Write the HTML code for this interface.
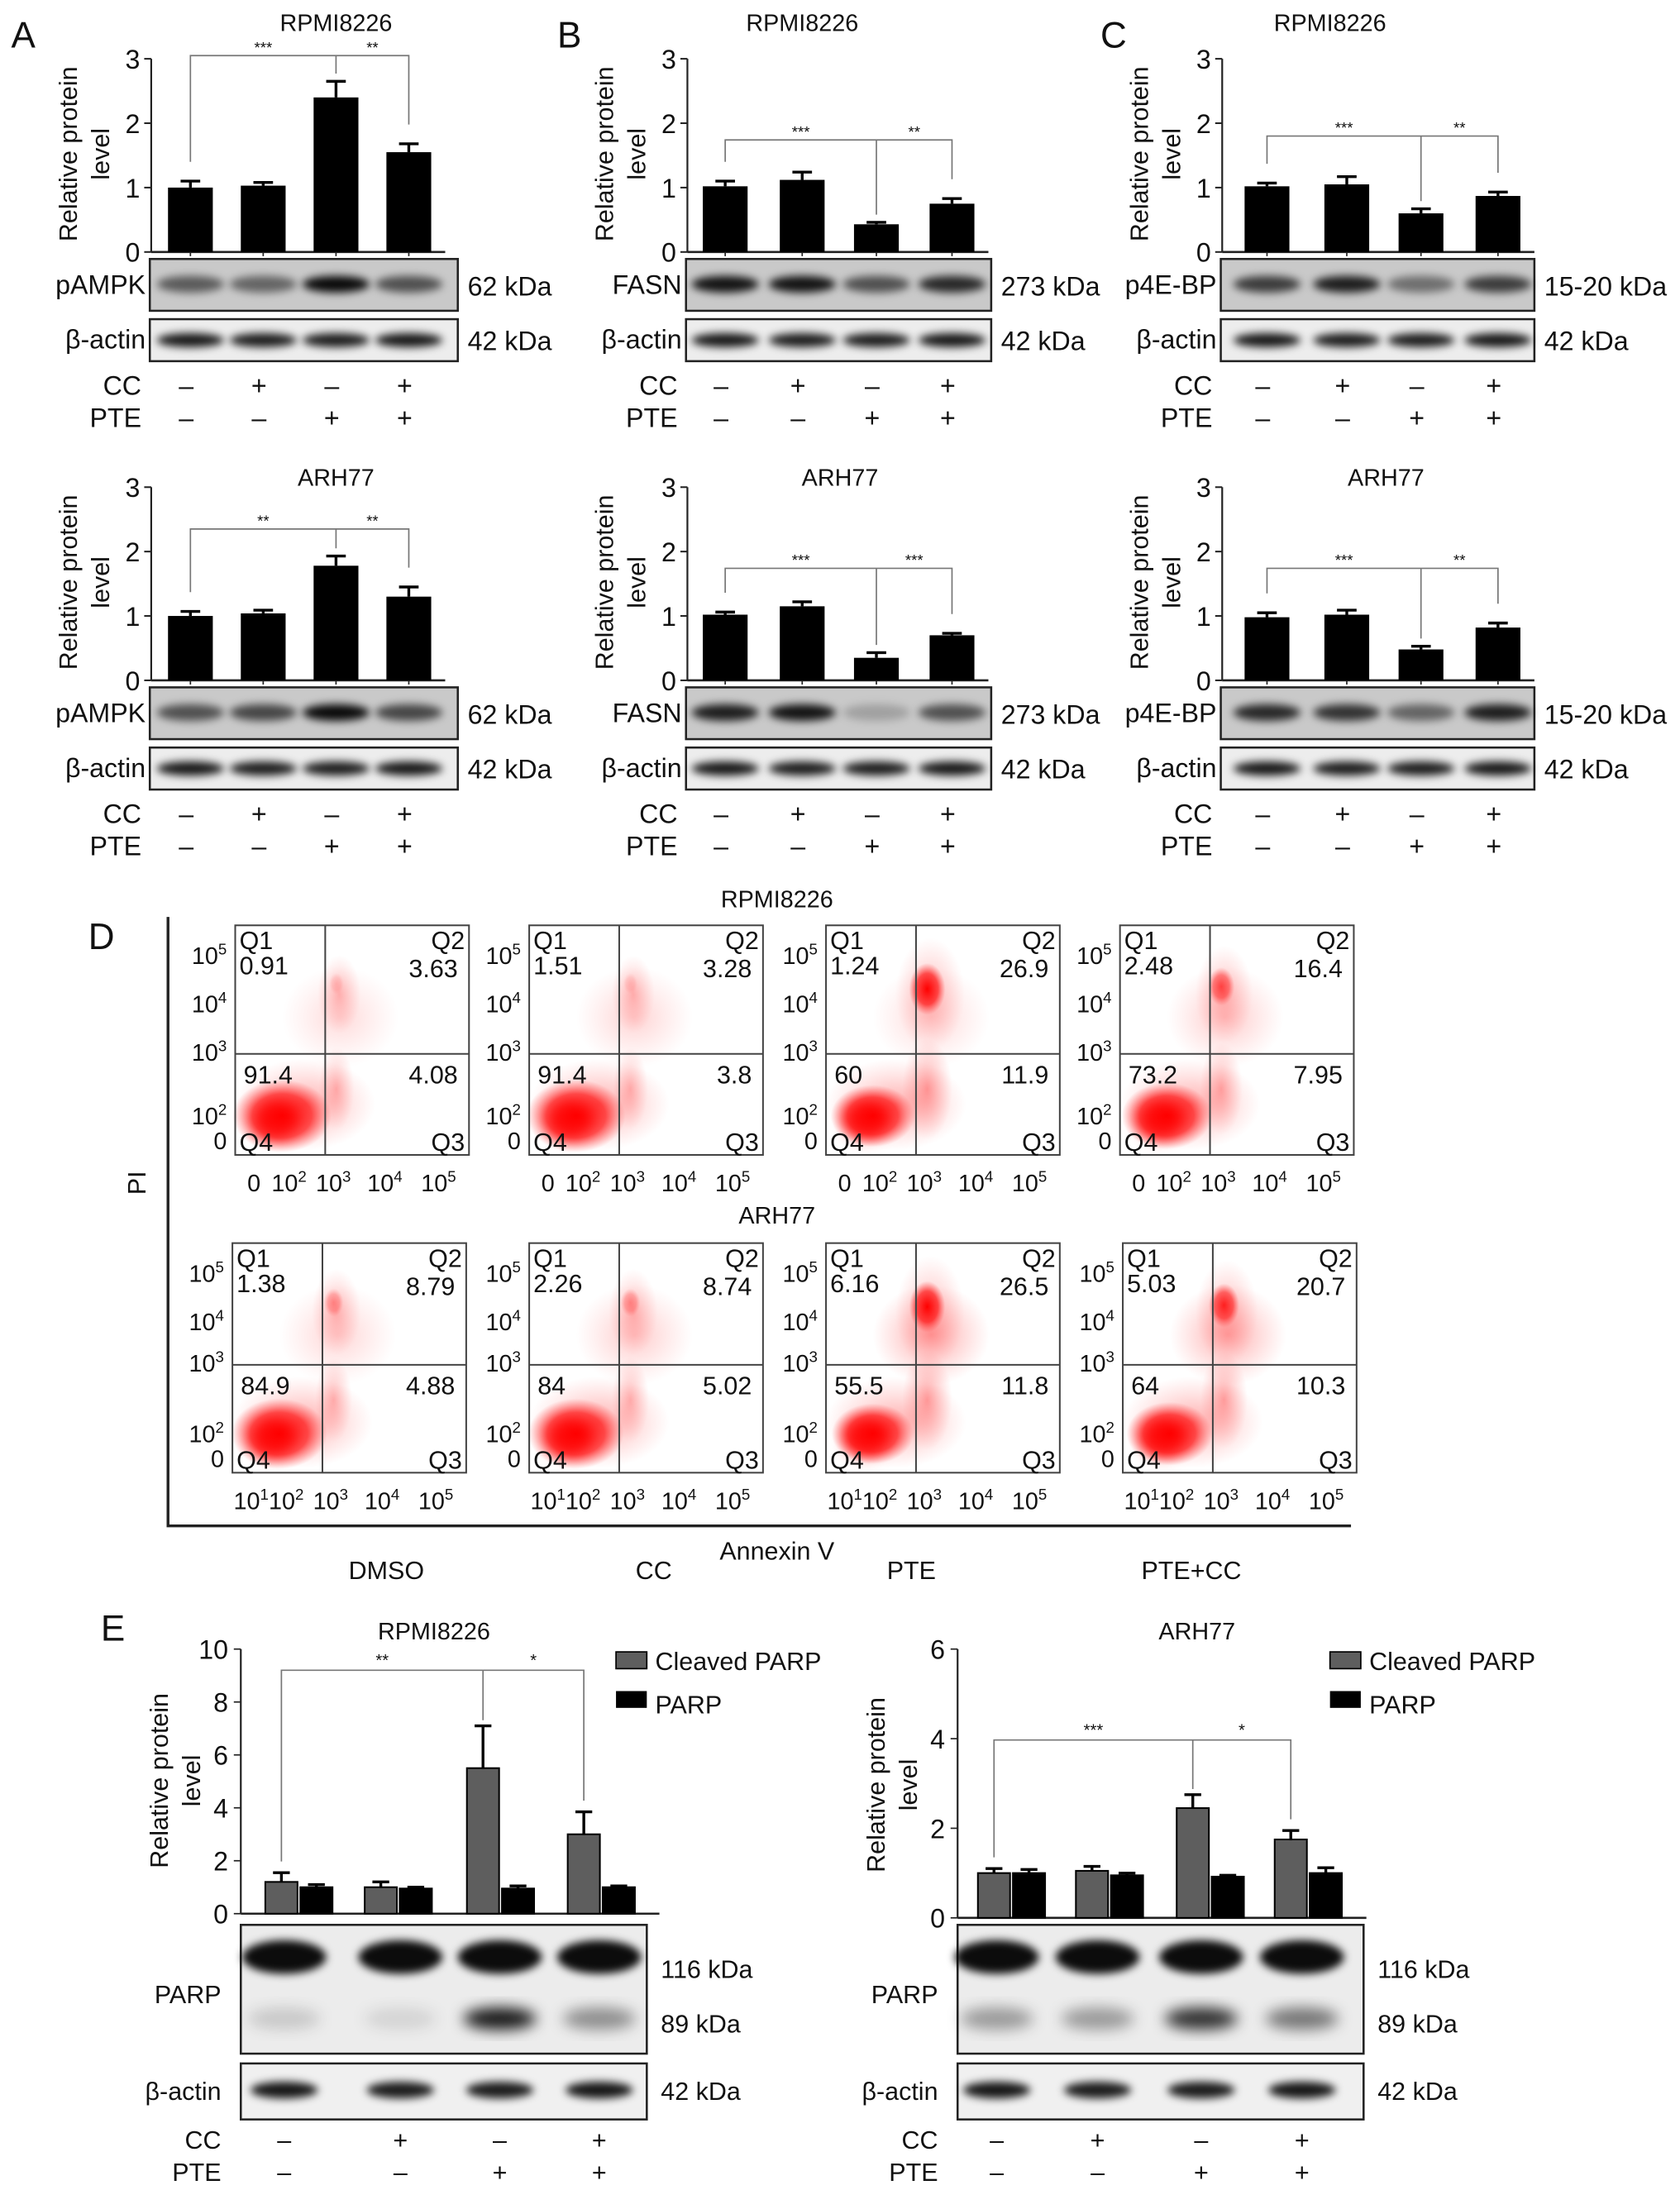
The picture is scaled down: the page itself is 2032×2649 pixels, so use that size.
<!DOCTYPE html>
<html><head><meta charset="utf-8"><style>
html,body{margin:0;padding:0;background:#fff;}
svg{display:block;font-family:"Liberation Sans",Arial,sans-serif;}
</style></head><body>
<svg id="fig" xmlns="http://www.w3.org/2000/svg" width="2032" height="2649" viewBox="0 0 1200 1564.4">
<defs>
<filter id="blur" x="-50%" y="-100%" width="200%" height="300%"><feGaussianBlur stdDeviation="3"/></filter>
<filter id="blur2" x="-50%" y="-50%" width="200%" height="200%"><feGaussianBlur stdDeviation="5"/></filter>
<radialGradient id="dens" cx="50%" cy="50%" r="50%"><stop offset="0" stop-color="#ff0000" stop-opacity="1"/><stop offset="0.6" stop-color="#ff1010" stop-opacity="0.7"/><stop offset="1" stop-color="#ff4040" stop-opacity="0"/></radialGradient>
<radialGradient id="sparse" cx="50%" cy="50%" r="50%"><stop offset="0" stop-color="#ff3030" stop-opacity="0.45"/><stop offset="1" stop-color="#ff6060" stop-opacity="0"/></radialGradient>
</defs>
<g id="root"></g>
</svg>
<script>
// ---- Data: panel A-C bar charts (relative protein level) ----
const lanes = ['DMSO','CC','PTE','PTE+CC'];
const ccSigns = ['–','+','–','+'];
const pteSigns = ['–','–','+','+'];
const yTicksTop = [0,1,2,3];
const aTopVals = [1.0,1.03,2.4,1.55];
const aTopErr = [0.1,0.05,0.25,0.13];
const aBotVals = [1.0,1.04,1.78,1.3];
const aBotErr = [0.07,0.05,0.15,0.15];
const bTopVals = [1.02,1.12,0.43,0.75];
const bTopErr = [0.08,0.12,0.03,0.08];
const bBotVals = [1.02,1.15,0.35,0.7];
const bBotErr = [0.04,0.07,0.08,0.03];
const cTopVals = [1.02,1.05,0.6,0.87];
const cTopErr = [0.05,0.12,0.07,0.06];
const cBotVals = [0.98,1.02,0.48,0.82];
const cBotErr = [0.07,0.07,0.05,0.07];
// band intensities (0-1)
const aTopBand = [0.55,0.5,0.95,0.6];
const aBotBand = [0.6,0.65,0.95,0.65];
const bTopBand = [0.9,0.9,0.6,0.8];
const bBotBand = [0.85,0.9,0.2,0.6];
const cTopBand = [0.7,0.85,0.45,0.7];
const cBotBand = [0.8,0.75,0.5,0.85];
const actinBand = [0.9,0.88,0.88,0.9];
// ---- Data: panel D flow cytometry quadrant percentages [Q1,Q2,Q3,Q4] ----
const flowRow1 = [[0.91,3.63,4.08,91.4],[1.51,3.28,3.8,91.4],[1.24,26.9,11.9,60],[2.48,16.4,7.95,73.2]];
const flowRow2 = [[1.38,8.79,4.88,84.9],[2.26,8.74,5.02,84],[6.16,26.5,11.8,55.5],[5.03,20.7,10.3,64]];
const flowXLabels1 = ['0','10²','10³','10⁴','10⁵'];
const flowXLabels2 = ['10¹','10²','10³','10⁴','10⁵'];
// ---- Data: panel E grouped bars ----
const eLeftTicks = [0,2,4,6,8,10];
const eRightTicks = [0,2,4,6];
const eLeftCleaved = [1.2,1.0,5.5,3.0];
const eLeftCleavedErr = [0.35,0.2,1.6,0.85];
const eLeftParp = [1.0,0.95,0.95,1.0];
const eLeftParpErr = [0.1,0.05,0.1,0.05];
const eRightCleaved = [1.0,1.05,2.45,1.75];
const eRightCleavedErr = [0.1,0.1,0.3,0.2];
const eRightParp = [1.0,0.95,0.92,1.0];
const eRightParpErr = [0.08,0.05,0.03,0.12];
const eLeft89 = [0.15,0.1,0.9,0.4];
const eRight89 = [0.35,0.35,0.8,0.5];

const NS='http://www.w3.org/2000/svg';
const root=document.getElementById('root');
function el(tag,attrs,parent,text){const e=document.createElementNS(NS,tag);for(const k in attrs)e.setAttribute(k,attrs[k]);if(text!==undefined)e.textContent=text;(parent||root).appendChild(e);return e;}
function txt(x,y,s,size,anchor,parent,name){const t=el('text',{x:x,y:y,'font-size':size,'text-anchor':anchor||'start',fill:'#111'},parent,s);


return t;}
function supLabel(x,y,base,sup,size,anchor,parent){const t=el('text',{x:x,y:y,'font-size':size,'text-anchor':anchor,fill:'#111'},parent);


el('tspan',{},t,base);el('tspan',{dy:-size*0.4,'font-size':size*0.65},t,sup);return t;}
function rotLabel(x,y,s,size,parent){const t=el('text',{x:0,y:0,'font-size':size,'text-anchor':'middle',fill:'#111',transform:`translate(${x},${y}) rotate(-90)`},parent,s);

}

function blot(x,y,w,h,centers,ints,bandY,bandH,bg,name,parent){
  const g=el('g',{},parent);
  
  
  el('rect',{x:x,y:y,width:w,height:h,fill:bg,stroke:'#222','stroke-width':1.5},g);
  centers.forEach((c,i)=>{const b=el('ellipse',{cx:c,cy:bandY,rx:24,ry:bandH,fill:'#000','fill-opacity':ints[i],filter:'url(#blur)'},g);
    
    });
  return g;
}

function topChart(c){
  const g=el('g',{});
  
  
  const ppu=46, y=v=>c.y0-v*ppu;
  txt(c.tx,c.ty,c.title,17,'middle',g,'chart-title');
  const ya=el('line',{x1:c.ax,y1:y(3),x2:c.ax,y2:c.y0,stroke:'#222','stroke-width':1.3},g);
  
  
  yTicksTop.forEach(t=>{el('line',{x1:c.ax-5,y1:y(t),x2:c.ax,y2:y(t),stroke:'#222','stroke-width':1.2},g);txt(c.ax-8,y(t)+7,String(t),19,'end',g,'y-tick-label');});
  const xa=el('line',{x1:c.ax,y1:c.y0,x2:c.centers[3]+26,y2:c.y0,stroke:'#222','stroke-width':1.5},g);
  
  
  rotLabel(c.ax-53,c.y0-70,'Relative protein',18,g);
  rotLabel(c.ax-30,c.y0-70,'level',18,g);
  c.vals.forEach((v,i)=>{
    const cx=c.centers[i];
    const r=el('rect',{x:cx-16,y:y(v),width:32,height:v*ppu,fill:'#000'},g);
    
    
    const top=y(v+c.err[i]);
    el('line',{x1:cx,y1:y(v),x2:cx,y2:top,stroke:'#000','stroke-width':2},g);
    el('line',{x1:cx-7,y1:top,x2:cx+7,y2:top,stroke:'#000','stroke-width':2},g);
    el('line',{x1:cx,y1:c.y0,x2:cx,y2:c.y0+3,stroke:'#222'},g);
  });
  const by=y(c.br), ce=c.centers, e=i=>c.vals[i]+c.err[i];
  const br=el('path',{d:`M${ce[0]},${y(e(0)+0.3)} V${by} H${ce[3]} V${y(e(3)+0.3)} M${ce[2]},${by} V${y(e(2)+0.12)}`,fill:'none',stroke:'#777','stroke-width':1},g);
  
  
  txt((ce[0]+ce[2])/2,by-2,c.stars[0],11,'middle',g,'significance-stars');
  txt((ce[2]+ce[3])/2,by-2,c.stars[1],11,'middle',g,'significance-stars');
  const bx=c.ax-1,bw=c.bw;
  blot(bx,c.y0+5,bw,37,ce,c.band,c.y0+23,6,'#c9c9c9',c.prot.toLowerCase().replace(/[^a-z0-9]/g,'')+'-blot',g);
  txt(c.ax-4,c.y0+30,c.prot,19,'end',g,'protein-label');
  txt(bx+bw+7,c.y0+31,c.kda,19,'start',g,'kda-label');
  blot(bx,c.y0+48,bw,30,ce,actinBand,c.y0+63,5,'#ededed','actin-blot',g);
  txt(c.ax-4,c.y0+69,'β-actin',19,'end',g,'protein-label');
  txt(bx+bw+7,c.y0+70,'42 kDa',19,'start',g,'kda-label');
  txt(c.ax-7,c.y0+102,'CC',19,'end',g,'cc-label');
  txt(c.ax-7,c.y0+125,'PTE',19,'end',g,'pte-label');
  ce.forEach((cx,i)=>{txt(cx-3,c.y0+102,ccSigns[i],19,'middle',g,'cc-sign');txt(cx-3,c.y0+125,pteSigns[i],19,'middle',g,'pte-sign');});
}
[['A',8],['B',398],['C',786]].forEach(([l,x])=>{txt(x,34,l,26,'start',root,'panel-letter-'+l.toLowerCase());});
topChart({name:'chart-a-rpmi8226',title:'RPMI8226',tx:240,ty:22,ax:108,y0:180,centers:[136,188,240,292],vals:aTopVals,err:aTopErr,br:3.05,stars:['***','**'],prot:'pAMPK',kda:'62 kDa',band:aTopBand,bw:220});
topChart({name:'chart-a-arh77',title:'ARH77',tx:240,ty:347,ax:108,y0:486,centers:[136,188,240,292],vals:aBotVals,err:aBotErr,br:2.35,stars:['**','**'],prot:'pAMPK',kda:'62 kDa',band:aBotBand,bw:220});
topChart({name:'chart-b-rpmi8226',title:'RPMI8226',tx:573,ty:22,ax:491,y0:180,centers:[518,573,626,680],vals:bTopVals,err:bTopErr,br:1.74,stars:['***','**'],prot:'FASN',kda:'273 kDa',band:bTopBand,bw:218});
topChart({name:'chart-b-arh77',title:'ARH77',tx:600,ty:347,ax:491,y0:486,centers:[518,573,626,680],vals:bBotVals,err:bBotErr,br:1.74,stars:['***','***'],prot:'FASN',kda:'273 kDa',band:bBotBand,bw:218});
topChart({name:'chart-c-rpmi8226',title:'RPMI8226',tx:950,ty:22,ax:873,y0:180,centers:[905,962,1015,1070],vals:cTopVals,err:cTopErr,br:1.8,stars:['***','**'],prot:'p4E-BP',kda:'15-20 kDa',band:cTopBand,bw:224});
topChart({name:'chart-c-arh77',title:'ARH77',tx:990,ty:347,ax:873,y0:486,centers:[905,962,1015,1070],vals:cBotVals,err:cBotErr,br:1.74,stars:['***','**'],prot:'p4E-BP',kda:'15-20 kDa',band:cBotBand,bw:224});

// ---- Panel D ----
txt(63,678,'D',26,'start',root,'panel-letter-d');
txt(555,648,'RPMI8226',17,'middle',root,'flow-title-rpmi8226');
txt(555,874,'ARH77',17,'middle',root,'flow-title-arh77');
const dax=el('path',{d:'M120,655 V1090 H965',fill:'none',stroke:'#222','stroke-width':2});


rotLabel(104,845,'PI',18,root);
txt(555,1114,'Annexin V',18,'middle',root,'x-axis-title');
[[276,'DMSO'],[467,'CC'],[651,'PTE'],[851,'PTE+CC']].forEach(([x,s])=>txt(x,1128,s,18,'middle',root,'treatment-label'));
function flowPlot(x,y,vals,xlab,hfrac,name){
  const w=167,h=164,g=el('g',{});
  
  
  const vx=x+w*0.385,hy=y+h*hfrac;
  const q2=vals[1]/30, q3=vals[2]/12;
  el('ellipse',{cx:x+w*0.45,cy:y+h*0.4,rx:w*0.25,ry:h*0.22,fill:'url(#sparse)','fill-opacity':0.3+vals[0]/8},g);
  el('ellipse',{cx:vx+10,cy:y+h*0.3,rx:14+q2*12,ry:26+q2*16,fill:'url(#sparse)','fill-opacity':0.75},g);
  el('ellipse',{cx:vx+8,cy:y+h*0.25+q2*5,rx:4+q2*10,ry:6+q2*14,fill:'url(#dens)','fill-opacity':Math.min(1,q2*1.2)},g);
  el('ellipse',{cx:vx+8,cy:hy+25,rx:10+q3*8,ry:26+q3*10,fill:'url(#sparse)','fill-opacity':0.6+q3*0.4},g);
  const m=vals[3]/100;
  el('ellipse',{cx:x+w*0.3,cy:y+h*0.78,rx:w*0.3,ry:h*0.2,fill:'url(#sparse)','fill-opacity':0.9},g);
  el('ellipse',{cx:x+w*0.2,cy:y+h*0.83,rx:w*0.2*(0.6+m*0.5),ry:h*0.15*(0.6+m*0.5),fill:'url(#dens)'},g);
  el('ellipse',{cx:x+w*0.17,cy:y+h*0.85,rx:w*0.09,ry:h*0.08,fill:'#ff0000','fill-opacity':0.75,filter:'url(#blur2)'},g);
  el('rect',{x:x,y:y,width:w,height:h,fill:'none',stroke:'#444','stroke-width':1.2},g);
  el('line',{x1:vx,y1:y,x2:vx,y2:y+h,stroke:'#444','stroke-width':1.2},g);
  el('line',{x1:x,y1:hy,x2:x+w,y2:hy,stroke:'#444','stroke-width':1.2},g);
  const fs=18;
  txt(x+3,y+17,'Q1',fs,'start',g,'quadrant-q1');
  txt(x+3,y+35,String(vals[0]),fs,'start',g,'q1-percent');
  txt(x+w-3,y+17,'Q2',fs,'end',g,'quadrant-q2');
  txt(x+w-8,y+37,String(vals[1]),fs,'end',g,'q2-percent');
  txt(x+6,hy+21,String(vals[3]),fs,'start',g,'q4-percent');
  txt(x+w-8,hy+21,String(vals[2]),fs,'end',g,'q3-percent');
  txt(x+3,y+h-3,'Q4',fs,'start',g,'quadrant-q4');
  txt(x+w-3,y+h-3,'Q3',fs,'end',g,'quadrant-q3');
  [[5,0.12],[4,0.33],[3,hfrac-0.02]].forEach(([p,f])=>supLabel(x-6,y+h*f+8,'10',String(p),17,'end',g));
  supLabel(x-6,y+h*0.83+6,'10','2',17,'end',g);
  txt(x-6,y+h-4,'0',17,'end',g,'tick-label');
  const xs=[0.08,0.23,0.42,0.64,0.87];
  const supMap={'¹':'1','²':'2','³':'3','⁴':'4','⁵':'5'};
  xlab.forEach((s,i)=>{
    if(s.length>1){supLabel(x+w*xs[i],y+h+26,'10',supMap[s[2]],17,'middle',g);}
    else txt(x+w*xs[i],y+h+26,s,17,'middle',g,'x-tick-label');
  });
}
const r1x=[168,378,590,800], r2x=[166,378,590,802];
flowRow1.forEach((v,i)=>flowPlot(r1x[i],661,v,flowXLabels1,0.56,'flow-rpmi8226-'+lanes[i].toLowerCase()));
flowRow2.forEach((v,i)=>flowPlot(r2x[i],888,v,flowXLabels2,0.53,'flow-arh77-'+lanes[i].toLowerCase()));

// ---- Panel E ----
txt(72,1172,'E',26,'start',root,'panel-letter-e');
function eChart(c){
  const g=el('g',{});
  
  
  const y=v=>c.y0-v*c.ppu;
  txt(c.tx,1171,c.title,17,'middle',g,'chart-title');
  el('line',{x1:c.ax,y1:y(c.ticks[c.ticks.length-1]),x2:c.ax,y2:c.y0,stroke:'#222','stroke-width':1.3},g);
  c.ticks.forEach(t=>{el('line',{x1:c.ax-5,y1:y(t),x2:c.ax,y2:y(t),stroke:'#222'},g);txt(c.ax-9,y(t)+7,String(t),19,'end',g,'y-tick-label');});
  el('line',{x1:c.ax,y1:c.y0,x2:c.gx[3]+c.bw*2+8,y2:c.y0,stroke:'#222','stroke-width':1.5},g);
  rotLabel(c.ax-52,c.y0-95,'Relative protein',18,g);
  rotLabel(c.ax-29,c.y0-95,'level',18,g);
  const draw=(vals,errs,off,fill,nm)=>vals.forEach((v,i)=>{
    const cx=c.gx[i]+off;
    const r=el('rect',{x:cx-c.bw/2,y:y(v),width:c.bw,height:v*c.ppu,fill:fill,stroke:'#000','stroke-width':1.2},g);
    
    
    const top=y(v+errs[i]);
    el('line',{x1:cx,y1:y(v),x2:cx,y2:top,stroke:'#000','stroke-width':2},g);
    el('line',{x1:cx-6,y1:top,x2:cx+6,y2:top,stroke:'#000','stroke-width':2},g);
  });
  draw(c.cl,c.clErr,0,'#5e5e5e','cleaved-parp');
  draw(c.pa,c.paErr,c.bw+2,'#000','parp');
  const e=i=>c.cl[i]+c.clErr[i], by=y(c.br), gx=c.gx;
  const br=el('path',{d:`M${gx[0]},${y(e(0))-8} V${by} H${gx[3]} V${y(e(3))-8} M${gx[2]},${by} V${y(e(2))-4}`,fill:'none',stroke:'#777','stroke-width':1},g);
  
  
  txt((gx[0]+gx[2])/2,by-3,c.stars[0],12,'middle',g,'significance-stars');
  txt((gx[2]+gx[3])/2,by-3,c.stars[1],12,'middle',g,'significance-stars');
  const lg=el('g',{},g);
  
  
  el('rect',{x:c.lx,y:1180,width:22,height:12,fill:'#5e5e5e',stroke:'#000'},lg);
  txt(c.lx+28,1193,'Cleaved PARP',18,'start',lg,'legend-entry-cleaved-parp');
  el('rect',{x:c.lx,y:1208,width:22,height:12,fill:'#000'},lg);
  txt(c.lx+28,1224,'PARP',18,'start',lg,'legend-entry-parp');
  const bw=c.boxW, bx=c.ax;
  const pb=el('g',{},g);
  
  
  el('rect',{x:bx,y:1375,width:bw,height:92,fill:'#ececec',stroke:'#222','stroke-width':1.5},pb);
  c.lanes.forEach((lx,i)=>{
    el('ellipse',{cx:lx,cy:1398,rx:30,ry:12,fill:'#000','fill-opacity':0.95,filter:'url(#blur)'},pb);
    el('ellipse',{cx:lx,cy:1442,rx:26,ry:8,fill:'#000','fill-opacity':c.b89[i],filter:'url(#blur2)'},pb);
  });
  txt(c.ax-14,1431,'PARP',18,'end',g,'protein-label');
  txt(bx+bw+10,1413,'116 kDa',18,'start',g,'kda-label');
  txt(bx+bw+10,1452,'89 kDa',18,'start',g,'kda-label');
  blot(bx,1474,bw,40,c.lanes,actinBand,1493,6,'#f0f0f0','actin-blot',g);
  txt(c.ax-14,1500,'β-actin',18,'end',g,'protein-label');
  txt(bx+bw+10,1500,'42 kDa',18,'start',g,'kda-label');
  txt(c.ax-14,1535,'CC',18,'end',g,'cc-label');
  txt(c.ax-14,1558,'PTE',18,'end',g,'pte-label');
  c.lanes.forEach((lx,i)=>{txt(lx,1535,ccSigns[i],18,'middle',g,'cc-sign');txt(lx,1558,pteSigns[i],18,'middle',g,'pte-sign');});
}
eChart({name:'chart-e-rpmi8226',title:'RPMI8226',tx:310,ax:172,y0:1367,ppu:18.9,ticks:eLeftTicks,gx:[201,272,345,417],bw:23,cl:eLeftCleaved,clErr:eLeftCleavedErr,pa:eLeftParp,paErr:eLeftParpErr,br:9.2,stars:['**','*'],lx:440,boxW:290,lanes:[203,286,357,428],b89:eLeft89});
eChart({name:'chart-e-arh77',title:'ARH77',tx:855,ax:684,y0:1370,ppu:32,ticks:eRightTicks,gx:[710,780,852,922],bw:23,cl:eRightCleaved,clErr:eRightCleavedErr,pa:eRightParp,paErr:eRightParpErr,br:3.97,stars:['***','*'],lx:950,boxW:290,lanes:[712,784,858,930],b89:eRight89});
</script>
</body></html>
